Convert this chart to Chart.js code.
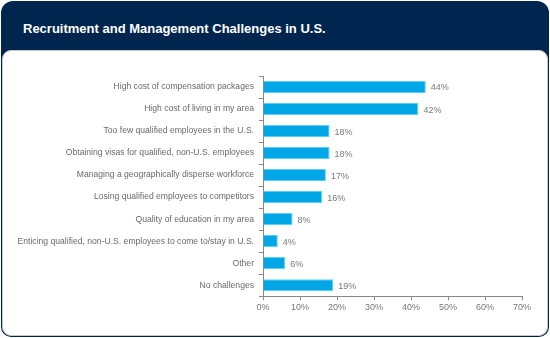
<!DOCTYPE html>
<html>
<head>
<meta charset="utf-8">
<script src="https://cdn.jsdelivr.net/npm/chart.js@4/dist/chart.umd.min.js"></script>
<style>
    html, body { margin: 0; padding: 0; background: #fff; }
    .frame {
        position: relative;
        width: 548px;
        height: 336px;
        margin: 1px;
        background: #00264f;
        border-radius: 12px 12px 10px 10px;
    }
    .title {
        position: absolute;
        left: 22px;
        top: 20px;
        color: #fff;
        font: bold 13px "Liberation Sans", Arial, sans-serif;
    }
    .panel {
        position: absolute;
        left: 1px;
        top: 49px;
        width: 544px;
        height: 284px;
        background: #fff;
        border: 1px solid #c4c8cc;
        border-radius: 9px;
    }
    #chart {
        position: absolute;
        left: 0;
        top: 0;
    }
</style>
</head>
<body>
<div class="frame">
    <div class="title">Recruitment and Management Challenges in U.S.</div>
    <div class="panel"></div>
</div>
<canvas id="chart" width="550" height="338"></canvas>
<script>
const categories = [
    'High cost of compensation packages',
    'High cost of living in my area',
    'Too few qualified employees in the U.S.',
    'Obtaining visas for qualified, non-U.S. employees',
    'Managing a geographically disperse workforce',
    'Losing qualified employees to competitors',
    'Quality of education in my area',
    'Enticing qualified, non-U.S. employees to come to/stay in U.S.',
    'Other',
    'No challenges'
];
const values = [44, 42, 18, 18, 17, 16, 8, 4, 6, 19];
const xTicks = [0, 10, 20, 30, 40, 50, 60, 70];

const labelFont = { family: '"Liberation Sans", Arial, sans-serif', size: 8.6 };

const valueLabels = {
    id: 'valueLabels',
    afterDatasetsDraw(chart) {
        const ctx = chart.ctx;
        const meta = chart.getDatasetMeta(0);
        ctx.save();
        ctx.font = '9px "Liberation Sans", Arial, sans-serif';
        ctx.fillStyle = '#7a7a7a';
        ctx.textBaseline = 'middle';
        meta.data.forEach((bar, i) => {
            ctx.fillText(values[i] + '%', bar.x + 5, bar.y + 1);
        });
        ctx.restore();
    }
};

new Chart(document.getElementById('chart'), {
    type: 'bar',
    data: {
        labels: categories,
        datasets: [{
            data: values,
            backgroundColor: '#00a6e6',
            borderColor: '#5fd0f5',
            borderWidth: 1,
            categoryPercentage: 1,
            barPercentage: 0.55
        }]
    },
    options: {
        indexAxis: 'y',
        responsive: false,
        animation: false,
        layout: { padding: { left: 10, right: 28, top: 76, bottom: 23 } },
        plugins: {
            legend: { display: false },
            tooltip: { enabled: false }
        },
        scales: {
            x: {
                min: 0,
                max: 70,
                afterBuildTicks: axis => {
                    axis.ticks = xTicks.map(v => ({ value: v }));
                },
                ticks: {
                    callback: v => v + '%',
                    color: '#777',
                    font: { family: labelFont.family, size: 9 },
                    padding: 2,
                    maxRotation: 0
                },
                grid: {
                    drawOnChartArea: false,
                    tickLength: 4,
                    color: '#888'
                },
                border: { color: '#888', width: 1 }
            },
            y: {
                afterFit: axis => { axis.width = 253; },
                ticks: {
                    color: '#6a6a6a',
                    font: labelFont,
                    padding: 5
                },
                grid: {
                    drawOnChartArea: false,
                    offset: true,
                    tickLength: 4,
                    color: '#888'
                },
                border: { color: '#888', width: 1 }
            }
        }
    },
    plugins: [valueLabels]
});
</script>
</body>
</html>
